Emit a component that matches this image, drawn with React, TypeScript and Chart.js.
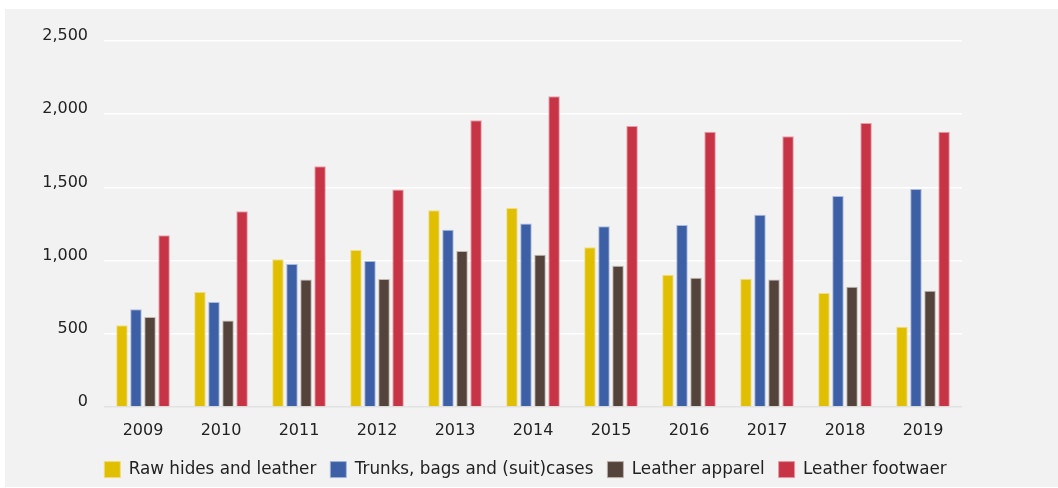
import React, { useEffect, useRef } from "react";
import { Chart, registerables } from "chart.js";

Chart.register(...registerables);

const years = ["2009", "2010", "2011", "2012", "2013", "2014", "2015", "2016", "2017", "2018", "2019"];
const rawHides = [558, 785, 1010, 1072, 1344, 1360, 1092, 903, 876, 778, 549];
const trunksBags = [667, 717, 976, 997, 1210, 1253, 1235, 1244, 1314, 1442, 1489];
const leatherApparel = [615, 590, 871, 874, 1065, 1040, 965, 883, 871, 821, 794];
const leatherFootwear = [1174, 1337, 1644, 1485, 1958, 2123, 1919, 1880, 1849, 1940, 1880];
const seriesNames = ["Raw hides and leather", "Trunks, bags and (suit)cases", "Leather apparel", "Leather footwaer"];
const yTicks = [0, 500, 1000, 1500, 2000, 2500];

const FONT = "'DejaVu Sans', sans-serif";

export default function App() {
  const ref = useRef<HTMLCanvasElement>(null);
  useEffect(() => {
    if (!ref.current) return;
    const mk = (label: string, data: number[], bg: string, bc: string) => ({
      label, data, backgroundColor: bg, borderColor: bc, borderWidth: 1,
    });
    const chart = new Chart(ref.current, {
      type: "bar",
      data: {
        labels: years,
        datasets: [
          mk(seriesNames[0], rawHides, "#e0bf00", "rgba(240,220,120,0.9)"),
          mk(seriesNames[1], trunksBags, "#3d5fa6", "rgba(160,180,220,0.9)"),
          mk(seriesNames[2], leatherApparel, "#54433b", "rgba(190,175,170,0.9)"),
          mk(seriesNames[3], leatherFootwear, "#c73446", "rgba(230,150,160,0.9)"),
        ],
      },
      options: {
        animation: false,
        responsive: false,
        layout: { padding: { top: 32, right: 12, left: 0, bottom: -1 } },
        datasets: { bar: { categoryPercentage: 0.72, barPercentage: 0.82 } },
        plugins: {
          tooltip: { enabled: false },
          legend: {
            position: "bottom",
            labels: {
              boxWidth: 16, boxHeight: 16, padding: 14, color: "#222",
              font: { family: FONT, size: 16.8 },
            },
          },
        },
        scales: {
          x: {
            grid: { display: false, drawTicks: false },
            border: { display: false },
            afterFit: (s: any) => { s.height = 40.2; },
            ticks: { color: "#222", padding: 14, font: { family: FONT, size: 16 } },
          },
          y: {
            min: 0, max: 2500,
            afterFit: (s: any) => { s.width = 99; },
            afterBuildTicks: (s: any) => { s.ticks = yTicks.map((v) => ({ value: v })); },
            grid: {
              drawTicks: false,
              lineWidth: 1.5,
              color: (ctx: any) => (ctx.tick && ctx.tick.value === 0 ? "#e2e2e2" : "#ffffff"),
            },
            border: { display: false },
            ticks: {
              color: "#222", padding: 16, labelOffset: -5,
              font: { family: FONT, size: 16 },
              callback: (v: any) => Number(v).toLocaleString("en-US"),
            },
          },
          yRight: {
            type: "linear",
            position: "right",
            grid: { display: false, drawTicks: false },
            border: { display: false },
            ticks: { display: false },
            afterFit: (s: any) => { s.width = 84; },
          },
        },
      },
    });
    return () => chart.destroy();
  }, []);
  return (
    <div style={{ position: "absolute", left: 5, top: 9, width: 1053, height: 478, background: "#f2f2f2" }}>
      <canvas ref={ref} width={1053} height={478} style={{ display: "block" }} />
    </div>
  );
}
